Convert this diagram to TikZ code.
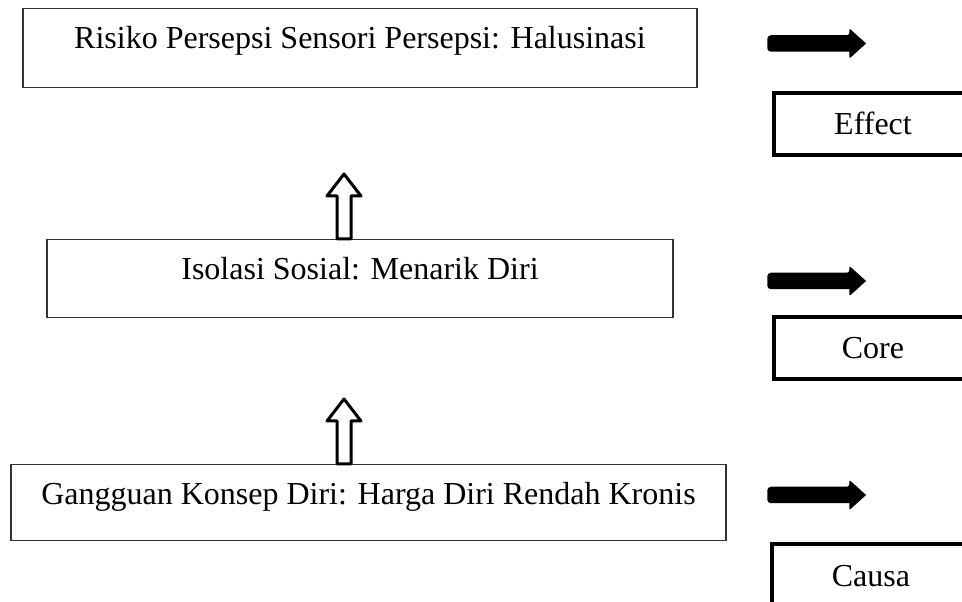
\documentclass[tikz,border=0pt]{standalone}
\usepackage{fontspec}
\setmainfont{Liberation Serif}
\usetikzlibrary{positioning}

\begin{document}
\begin{tikzpicture}[x=1pt, y=1pt,
  font=\fontsize{32}{38}\selectfont,
  leftbox/.style={draw=black!80, line width=1.2pt, inner sep=0pt, text height=40pt, text depth=38pt, anchor=north},
  sidebox/.style={draw, line width=4pt, inner sep=0pt, text height=21pt, text depth=0pt, minimum width=198pt, minimum height=62pt, anchor=north west},
  hollowarr/.style={draw, line width=3pt, line join=round, fill=white},
  blockarr/.style={fill=black, draw=black, line width=1.5pt, line join=round}]
% Set the page size
\useasboundingbox (0, 0) rectangle (962, 602);
\fill[white] (0, 0) rectangle (962, 602);
\clip (0, 0) rectangle (962, 602);

% Left column boxes
\node[leftbox, minimum width=674pt, text depth=39pt] (risk) at (360, 594) {Risiko Persepsi Sensori Persepsi: Halusinasi};
\node[leftbox, minimum width=626pt] (isol) at (360, 363) {Isolasi Sosial: Menarik Diri};
\node[leftbox, minimum width=715pt, text depth=36pt] (harga) at (368.5, 138) {Gangguan Konsep Diri: Harga Diri Rendah Kronis};

% Hollow arrows going up
\draw[hollowarr] ([xshift=-23pt]isol.north) -- ++(0, 43) -- ++(-10, 0) -- ++(17, 22) -- ++(17, -22) -- ++(-10, 0) -- ++(0, -43) -- cycle;
\draw[hollowarr] ([xshift=-31.5pt]harga.north) -- ++(0, 43) -- ++(-10, 0) -- ++(17, 22) -- ++(17, -22) -- ++(-10, 0) -- ++(0, -43) -- cycle;

% Right column labels
\node[sidebox] (effect) at (772, 511) {Effect};
\node[sidebox] (core) at (772, 287) {Core};
\node[sidebox, minimum height=64pt] (causa) at (770, 60) {Causa};

% Black arrows
\coordinate (ea) at (768, 558.5);
\coordinate (ca) at (768, 321);
\coordinate (ka) at (768, 107);
\filldraw[blockarr] (ea) ++(0, 7.5) [rounded corners=3pt] -- ++(82, 0) [sharp corners] -- ++(0, 6) -- ++(15, -13.5) -- ++(-15, -13.5) -- ++(0, 6) [rounded corners=3pt] -- ++(-82, 0) -- cycle;
\filldraw[blockarr] (ca) ++(0, 7.5) [rounded corners=3pt] -- ++(82, 0) [sharp corners] -- ++(0, 6) -- ++(15, -13.5) -- ++(-15, -13.5) -- ++(0, 6) [rounded corners=3pt] -- ++(-82, 0) -- cycle;
\filldraw[blockarr] (ka) ++(0, 7.5) [rounded corners=3pt] -- ++(82, 0) [sharp corners] -- ++(0, 6) -- ++(15, -13.5) -- ++(-15, -13.5) -- ++(0, 6) [rounded corners=3pt] -- ++(-82, 0) -- cycle;
\end{tikzpicture}
\end{document}
